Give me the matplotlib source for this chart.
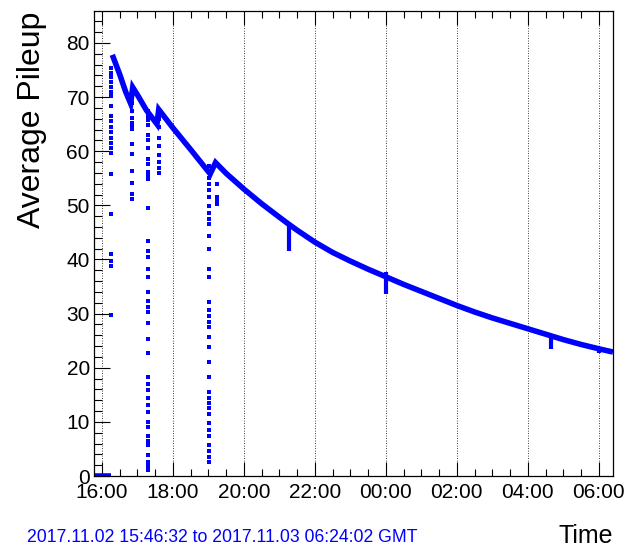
import matplotlib
matplotlib.use("Agg")
import matplotlib.pyplot as plt
import matplotlib.dates as mdates
from matplotlib.ticker import MultipleLocator
from datetime import datetime, timedelta

plt.rcParams['font.family'] = ['Liberation Sans', 'DejaVu Sans']

# Run window (GMT)
RUN_START = datetime(2017, 11, 2, 15, 46, 32)
RUN_END = datetime(2017, 11, 3, 6, 24, 2)


def at(clock):
    """Clock time 'HH:MM[:SS]' -> datetime within the run window."""
    parts = [int(p) for p in clock.split(":")]
    while len(parts) < 3:
        parts.append(0)
    d = datetime(2017, 11, 2, *parts)
    if d < RUN_START - timedelta(hours=1):
        d += timedelta(days=1)
    return d


# Before collisions: pileup at zero
zero_times = ["15:46:32", "16:16:00"]
zero_values = [0.0, 0.0]

# Main pileup trace (including the re-optimisation jumps)
curve_times = ["16:17:30", "16:30", "16:40", "16:48:30", "16:52", "17:00", "17:15",
               "17:33", "17:36", "18:00", "18:30", "19:03", "19:12", "19:30",
               "20:00", "20:30", "21:00", "21:16", "21:30", "22:00", "22:30",
               "23:00", "23:30", "00:00", "00:30", "01:00", "01:30", "02:00",
               "02:30", "03:00", "03:30", "04:00", "04:30", "04:39", "05:00",
               "05:30", "06:00", "06:24"]
curve_values = [77.8, 74.2, 71.0, 68.8, 71.8, 70.4, 67.6,
                65.0, 67.7, 64.3, 60.3, 55.8, 57.9, 55.9,
                53.0, 50.3, 47.8, 46.5, 45.4, 43.2, 41.3,
                39.7, 38.2, 36.8, 35.4, 34.1, 32.8, 31.5,
                30.3, 29.2, 28.2, 27.2, 26.2, 25.9, 25.2,
                24.3, 23.5, 22.9]

# Short dips on the trace: time, top, bottom
dip_times = ["21:16", "00:00", "04:39", "06:00"]
dip_tops = [46.5, 37.6, 25.9, 23.5]
dip_bottoms = [41.6, 33.7, 23.5, 22.8]

# Scattered low readings during the adjustments
drop_a_time = "16:16"
drop_a_values = [75.4, 74.5, 73.7, 72.8, 71.8, 71.0, 70.2, 68.3, 66.5, 65.5,
                 64.5, 63.5, 62.5, 61.5, 60.5, 59.7, 55.8, 48.4, 41.0, 39.8,
                 38.8, 29.8]
drop_b_time = "16:50"
drop_b_values = [68.9, 67.5, 66.2, 65.2, 64.6, 64.1, 61.3, 59.5, 56.4, 54.2,
                 52.1, 51.2]
drop_c_time = "17:18:30"
drop_c_values = [67.4, 66.5, 65.8, 64.8, 63.0, 62.0, 60.5, 58.5, 57.6, 56.2,
                 55.4, 54.9, 49.6, 43.5, 41.6, 40.5, 38.3, 36.7, 34.0, 32.4,
                 31.3, 30.3, 28.2, 25.4, 22.7, 18.3, 17.0, 15.9, 14.4, 13.1,
                 11.9, 10.0, 9.1, 7.3, 6.5, 5.7, 3.9, 2.6, 1.8, 1.1]
drop_d_time = "17:36:30"
drop_d_values = [66.0, 64.5, 62.4, 61.0, 59.3, 58.0, 56.9, 56.0]
drop_e_time = "19:01"
drop_e_values = [57.3, 56.2, 55.0, 54.0, 52.8, 51.6, 49.9, 48.5, 47.5, 46.6,
                 44.4, 42.0, 38.3, 36.7, 32.2, 30.6, 29.5, 28.5, 27.5, 25.7,
                 23.8, 21.1, 18.3, 15.5, 14.5, 13.4, 12.5, 11.5, 9.8, 8.5,
                 7.3, 5.7, 4.6, 3.6, 2.6]
drop_f_time = "19:14:30"
drop_f_values = [54.0, 51.6, 50.8, 50.3]

BLUE = "#0000ff"

fig = plt.figure(figsize=(6.26, 5.47), dpi=100)
W, H = 626, 547
ax = fig.add_axes([94 / W, 71 / H, 519 / W, 465 / H])

ax.plot([at(t) for t in zero_times], zero_values, color=BLUE, lw=4.0,
        solid_capstyle="butt")
ax.plot([at(t) for t in curve_times], curve_values, color=BLUE, lw=4.0,
        solid_joinstyle="miter", solid_capstyle="butt")
ax.vlines([at(t) for t in dip_times], dip_bottoms, dip_tops, color=BLUE, lw=3.0)

for t, vals in [(drop_a_time, drop_a_values), (drop_b_time, drop_b_values),
                (drop_c_time, drop_c_values), (drop_d_time, drop_d_values),
                (drop_e_time, drop_e_values), (drop_f_time, drop_f_values)]:
    ax.plot([at(t)] * len(vals), vals, "s", ms=3.2, mew=0, color=BLUE)

ax.set_xlim(RUN_START, RUN_END)
ax.set_ylim(0, 85.9)

ax.xaxis.set_major_locator(mdates.HourLocator(byhour=range(0, 24, 2)))
ax.xaxis.set_minor_locator(mdates.MinuteLocator(byminute=[0, 30]))
ax.xaxis.set_major_formatter(mdates.DateFormatter("%H:%M"))
ax.yaxis.set_major_locator(MultipleLocator(10))
ax.yaxis.set_minor_locator(MultipleLocator(2))

ax.tick_params(axis="x", which="both", direction="in", top=True, bottom=True,
               labelsize=15, pad=5, width=0.8, color="black")
ax.tick_params(axis="x", which="major", length=10)
ax.tick_params(axis="x", which="minor", length=5)
ax.tick_params(axis="y", which="both", direction="in", left=True, right=False,
               labelsize=15, pad=3, width=0.8)
ax.tick_params(axis="y", which="major", length=11.5)
ax.tick_params(axis="y", which="minor", length=5.8)

ax.grid(axis="x", which="major", color="black", linestyle=(0, (1, 2)), lw=0.6)
for s in ax.spines.values():
    s.set_linewidth(0.9)
    s.set_color("black")

fig.text(32 / W, 1 - 12 / H, "Average Pileup", rotation=90, ha="center",
         va="top", fontsize=23)
fig.text(27 / W, 5 / H,
         f"{RUN_START:%Y.%m.%d %H:%M:%S} to {RUN_END:%Y.%m.%d %H:%M:%S} GMT",
         color=BLUE, fontsize=12.7, ha="left", va="baseline")
fig.text(613 / W, 4 / H, "Time", fontsize=18, ha="right", va="baseline")

fig.savefig("out.png", dpi=100, facecolor="white")
